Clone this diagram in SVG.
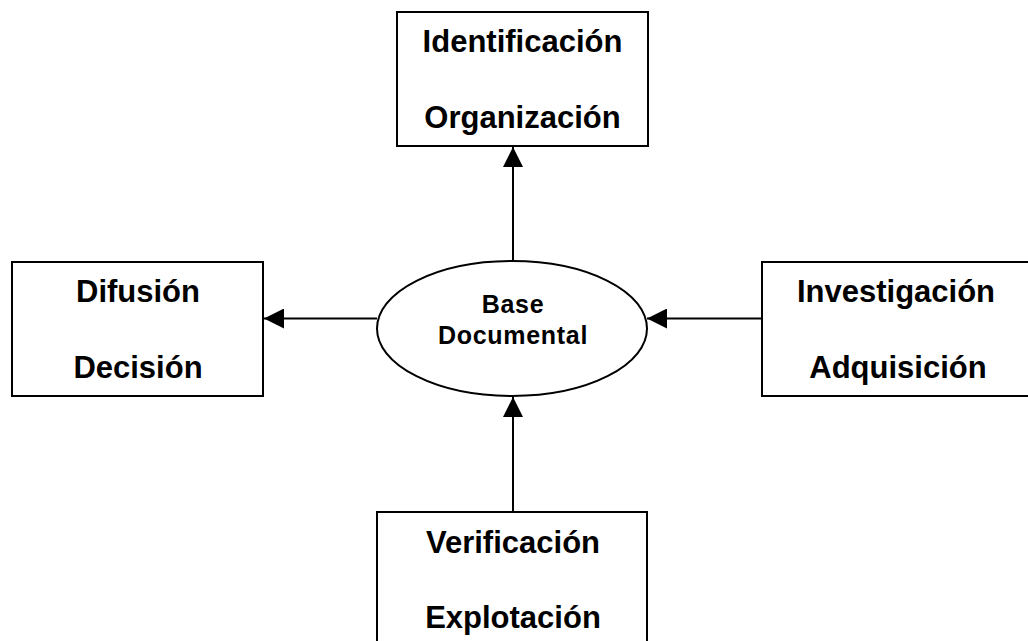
<svg xmlns="http://www.w3.org/2000/svg" width="1028" height="641" viewBox="0 0 1028 641">
  <style>
    .box { fill: #ffffff; stroke: #000000; stroke-width: 2; }
    .hub { fill: #ffffff; stroke: #000000; stroke-width: 2; }
    .edge { fill: none; stroke: #000000; stroke-width: 2; }
    .lbl { font-family: "Liberation Sans", Arial, sans-serif; font-weight: bold; font-size: 31px; fill: #000000; text-anchor: middle; }
    .hublbl { font-family: "Liberation Sans", Arial, sans-serif; font-weight: bold; font-size: 25px; letter-spacing: 0.7px; fill: #000000; text-anchor: middle; }
  </style>
  <defs>
    <marker id="arrow" markerUnits="userSpaceOnUse" markerWidth="20" markerHeight="20" viewBox="0 0 20 20" refX="20" refY="10" orient="auto">
      <path d="M0,0 L20,10 L0,20 Z" fill="#000000"/>
    </marker>
  </defs>
  <rect width="1028" height="641" fill="#ffffff"/>

  <!-- connectors -->
  <g id="connectors">
    <line class="edge" x1="513" y1="261" x2="513" y2="147" marker-end="url(#arrow)"/>
    <line class="edge" x1="377" y1="318.5" x2="264" y2="318.5" marker-end="url(#arrow)"/>
    <line class="edge" x1="762" y1="318.5" x2="647" y2="318.5" marker-end="url(#arrow)"/>
    <line class="edge" x1="513" y1="512" x2="513" y2="397" marker-end="url(#arrow)"/>
  </g>

  <!-- central store -->
  <g id="base-documental">
    <ellipse class="hub" cx="512" cy="328.5" rx="135" ry="67.5"/>
    <text class="hublbl" x="513" y="313">Base</text>
    <text class="hublbl" x="513" y="344">Documental</text>
  </g>

  <g id="identificacion">
    <rect class="box" x="397" y="12" width="251" height="134"/>
    <text class="lbl" x="522.5" y="52">Identificación</text>
    <text class="lbl" x="522.5" y="128">Organización</text>
  </g>

  <g id="difusion">
    <rect class="box" x="12" y="262" width="251" height="134"/>
    <text class="lbl" x="138" y="302">Difusión</text>
    <text class="lbl" x="138" y="378">Decisión</text>
  </g>

  <g id="investigacion">
    <rect class="box" x="762" y="262" width="272" height="134"/>
    <text class="lbl" x="896" y="302">Investigación</text>
    <text class="lbl" x="898" y="378">Adquisición</text>
  </g>

  <g id="verificacion">
    <rect class="box" x="377" y="512" width="270" height="140"/>
    <text class="lbl" x="513" y="553">Verificación</text>
    <text class="lbl" x="513" y="628">Explotación</text>
  </g>
</svg>
